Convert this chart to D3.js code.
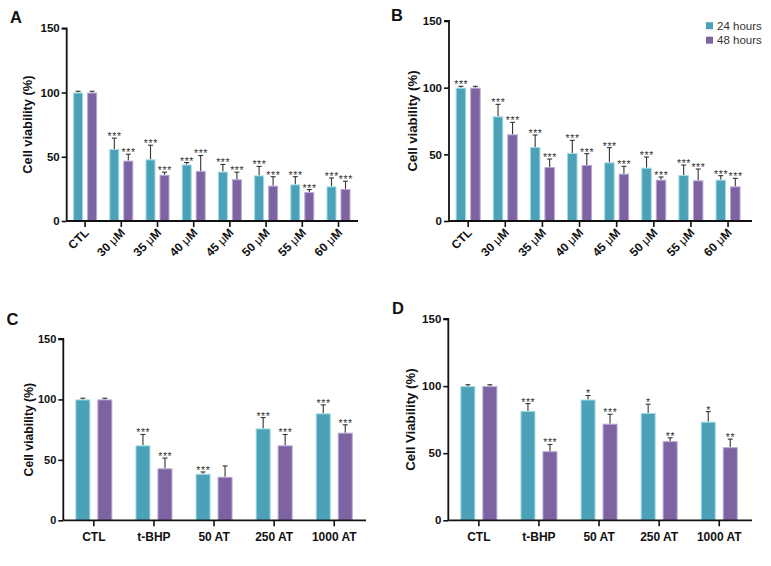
<!DOCTYPE html>
<html>
<head>
<meta charset="utf-8">
<script src="https://cdn.jsdelivr.net/npm/d3@7"></script>
<style>
  html, body { margin: 0; padding: 0; background: #fff; }
  svg { display: block; }
</style>
</head>
<body>
<svg id="chart" width="771" height="566"></svg>
<script>
// ---------------- DATA ----------------
const seriesNames = ["24 hours", "48 hours"];
const doseCats = ["CTL", "30 μM", "35 μM", "40 μM", "45 μM", "50 μM", "55 μM", "60 μM"];
const treatCats = ["CTL", "t-BHP", "50 AT", "250 AT", "1000 AT"];
const yTicks = [0, 50, 100, 150];

// Panel A
const a24 = [100, 56, 48, 44, 38.5, 35.5, 28.5, 27];
const a24Err = [1, 8.5, 11, 1.5, 5.5, 7, 6, 6.5];
const a48 = [100, 47, 36, 39, 32.5, 27.5, 22.5, 25];
const a48Err = [1, 5, 2, 12, 5.5, 7, 2, 6];
const aSig24 = ["", "***", "***", "***", "***", "***", "***", "***"];
const aSig48 = ["", "***", "***", "***", "***", "***", "***", "***"];

// Panel B
const b24 = [100, 78.5, 55.5, 51, 44, 40, 34.5, 31];
const b24Err = [1, 9, 9, 9.5, 11, 8, 7.5, 3];
const b48 = [100, 65, 40.5, 42, 35.5, 31, 30.5, 26];
const b48Err = [1, 9, 6, 8.5, 5.5, 2, 8.5, 6];
const bSig24 = ["***", "***", "***", "***", "***", "***", "***", "***"];
const bSig48 = ["", "***", "***", "***", "***", "***", "***", "***"];

// Panel C
const c24 = [100, 62, 38.5, 76, 88.5];
const c24Err = [1, 9, 1.5, 9, 7];
const c48 = [100, 43, 36, 62, 72.5];
const c48Err = [1, 8.5, 9, 9, 6.5];
const cSig24 = ["", "***", "***", "***", "***"];
const cSig48 = ["", "***", "", "***", "***"];

// Panel D
const d24 = [100, 81.5, 90, 80, 73.5];
const d24Err = [1, 5.5, 3, 6.5, 7.5];
const d48 = [100, 51.5, 72, 59, 54.5];
const d48Err = [1, 5, 7, 2.5, 6];
const dSig24 = ["", "***", "*", "*", "*"];
const dSig48 = ["", "***", "***", "**", "**"];

// ---------------- STYLE ----------------
const FONT = "'Liberation Sans', Arial, Helvetica, sans-serif";
const colors = ["#4ba2b8", "#7e63a3"];
const edgeColors = ["#a4dbe4", "#b9a8d6"];
const svg = d3.select("#chart");

function drawPanel(cfg) {
  const g = svg.append("g");
  const x = d3.scaleBand().domain(cfg.cats).range([cfg.bandL, cfg.bandR]).padding(0);
  const y = d3.scaleLinear().domain([0, 150]).range([cfg.yBottom, cfg.yTop]);

  const rows = cfg.cats.map((c, i) => ({
    cat: c,
    vals: [
      { s: 0, v: cfg.s1[i], e: cfg.e1[i], sig: cfg.sig1[i] },
      { s: 1, v: cfg.s2[i], e: cfg.e2[i], sig: cfg.sig2[i] }
    ]
  }));
  const offset = s => (s === 0 ? -(cfg.gap / 2 + cfg.barW) : cfg.gap / 2);

  const grp = g.selectAll("g.cat").data(rows).join("g")
    .attr("transform", d => `translate(${x(d.cat) + x.bandwidth() / 2},0)`);
  const bars = grp.selectAll("g.bar").data(d => d.vals).join("g");

  // error bars (upper only)
  bars.append("line")
    .attr("x1", d => offset(d.s) + cfg.barW / 2).attr("x2", d => offset(d.s) + cfg.barW / 2)
    .attr("y1", d => y(d.v)).attr("y2", d => y(d.v + d.e))
    .attr("stroke", "#333").attr("stroke-width", 1.1);
  bars.append("line")
    .attr("x1", d => offset(d.s) + cfg.barW / 2 - cfg.capW / 2)
    .attr("x2", d => offset(d.s) + cfg.barW / 2 + cfg.capW / 2)
    .attr("y1", d => y(d.v + d.e)).attr("y2", d => y(d.v + d.e))
    .attr("stroke", "#333").attr("stroke-width", 1.1);

  bars.append("rect")
    .attr("x", d => offset(d.s) + 0.5)
    .attr("width", cfg.barW - 1)
    .attr("y", d => y(d.v) + 0.5)
    .attr("height", d => y(0) - y(d.v) - 0.5)
    .attr("fill", d => colors[d.s])
    .attr("stroke", d => edgeColors[d.s]).attr("stroke-width", 1);

  bars.append("text")
    .attr("x", d => offset(d.s) + cfg.barW / 2 + 0.3)
    .attr("y", d => y(d.v + d.e) + cfg.starDy)
    .attr("text-anchor", "middle")
    .attr("font-family", FONT).attr("font-size", cfg.starSize)
    .attr("letter-spacing", "0.6px")
    .attr("fill", "#333")
    .text(d => d.sig);

  // y axis
  const yAxis = d3.axisLeft(y).tickValues(yTicks).tickSize(5).tickPadding(2).tickFormat(d3.format("d"));
  const ya = g.append("g").attr("transform", `translate(${cfg.axisL},0)`).call(yAxis);
  ya.select(".domain").attr("stroke", "#111").attr("stroke-width", 1.8)
    .attr("d", `M-5,${cfg.yTop}H0V${cfg.yBottom}`);
  ya.selectAll(".tick line").attr("stroke", "#111").attr("stroke-width", 1.6);
  ya.selectAll(".tick text").attr("font-family", FONT).attr("font-size", cfg.tickSize)
    .attr("font-weight", "bold").attr("fill", "#111");

  // x axis
  const xAxis = d3.axisBottom(x).tickSize(6).tickSizeOuter(0).tickFormat("");
  const xa = g.append("g").attr("transform", `translate(0,${cfg.yBottom})`).call(xAxis);
  xa.select(".domain").attr("stroke", "#111").attr("stroke-width", 1.8)
    .attr("d", `M${cfg.axisL},0H${cfg.axisR}`);
  xa.selectAll(".tick line").attr("stroke", "#111").attr("stroke-width", 1.6);

  // x labels
  const lab = g.selectAll("text.xl").data(cfg.cats).join("text")
    .attr("font-family", FONT).attr("font-size", cfg.xLabSize).attr("font-weight", "bold")
    .attr("fill", "#111");
  if (cfg.rotate) {
    lab.attr("text-anchor", "end")
      .attr("transform", c => `translate(${x(c) + x.bandwidth() / 2 + 4.5},${cfg.yBottom + 12.5}) rotate(-45)`);
    lab.each(function (c) {
      const t = d3.select(this);
      const parts = c.split("μ");
      if (parts.length > 1) {
        t.append("tspan").text(parts[0]);
        t.append("tspan").attr("font-weight", "normal").text("μ");
        t.append("tspan").text(parts[1]);
      } else t.text(c);
    });
  } else {
    lab.attr("text-anchor", "middle")
      .attr("x", c => x(c) + x.bandwidth() / 2)
      .attr("y", cfg.yBottom + 20.5)
      .text(c => c);
  }

  // y title
  g.append("text")
    .attr("transform", `translate(${cfg.yTitleX},${(cfg.yTop + cfg.yBottom) / 2}) rotate(-90)`)
    .attr("text-anchor", "middle").attr("dy", "0.35em")
    .attr("font-family", FONT).attr("font-size", cfg.yTitleSize).attr("font-weight", "bold")
    .attr("fill", "#111")
    .text(cfg.yTitle);

  // panel letter
  g.append("text").attr("x", cfg.letterX).attr("y", cfg.letterY)
    .attr("font-family", FONT).attr("font-size", 16.5).attr("font-weight", "bold")
    .attr("fill", "#111").text(cfg.letter);

  return g;
}

drawPanel({
  letter: "A", letterX: 10, letterY: 23,
  cats: doseCats, s1: a24, e1: a24Err, s2: a48, e2: a48Err, sig1: aSig24, sig2: aSig48,
  bandL: 67, bandR: 356.6, axisL: 66.7, axisR: 358, yTop: 28.3, yBottom: 221,
  barW: 10, gap: 4, capW: 5, starSize: 10.5, starDy: 2, tickSize: 11.5, xLabSize: 12,
  rotate: true, yTitle: "Cell viability (%)", yTitleX: 28, yTitleSize: 12.8
});

drawPanel({
  letter: "B", letterX: 391, letterY: 20.5,
  cats: doseCats, s1: b24, e1: b24Err, s2: b48, e2: b48Err, sig1: bSig24, sig2: bSig48,
  bandL: 449.6, bandR: 746.6, axisL: 449, axisR: 752, yTop: 21, yBottom: 221,
  barW: 10.5, gap: 4, capW: 5, starSize: 10.5, starDy: 2, tickSize: 11.5, xLabSize: 12,
  rotate: true, yTitle: "Cell viability (%)", yTitleX: 412.5, yTitleSize: 13.2
});

drawPanel({
  letter: "C", letterX: 6.5, letterY: 325,
  cats: treatCats, s1: c24, e1: c24Err, s2: c48, e2: c48Err, sig1: cSig24, sig2: cSig48,
  bandL: 63.8, bandR: 364.3, axisL: 63.3, axisR: 366, yTop: 339, yBottom: 520.3,
  barW: 15, gap: 7, capW: 5, starSize: 10.5, starDy: 2, tickSize: 11, xLabSize: 12,
  rotate: false, yTitle: "Cell viability (%)", yTitleX: 28.5, yTitleSize: 12.2
});

drawPanel({
  letter: "D", letterX: 392, letterY: 314,
  cats: treatCats, s1: d24, e1: d24Err, s2: d48, e2: d48Err, sig1: dSig24, sig2: dSig48,
  bandL: 448.8, bandR: 749.3, axisL: 448.3, axisR: 752, yTop: 319, yBottom: 520.3,
  barW: 15, gap: 7, capW: 5, starSize: 10.5, starDy: 2, tickSize: 11.5, xLabSize: 12,
  rotate: false, yTitle: "Cell Viability (%)", yTitleX: 410, yTitleSize: 13.2
});

// legend (panel B)
const leg = svg.append("g").attr("transform", "translate(706,25.7)");
const li = leg.selectAll("g").data(seriesNames).join("g")
  .attr("transform", (d, i) => `translate(0,${i * 14.5})`);
li.append("rect").attr("x", 0).attr("y", -3.5).attr("width", 7).attr("height", 7)
  .attr("fill", (d, i) => colors[i]);
li.append("text").attr("x", 11).attr("dy", "0.35em")
  .attr("font-family", FONT).attr("font-size", 11.5).attr("fill", "#333")
  .text(d => d);
</script>
</body>
</html>
